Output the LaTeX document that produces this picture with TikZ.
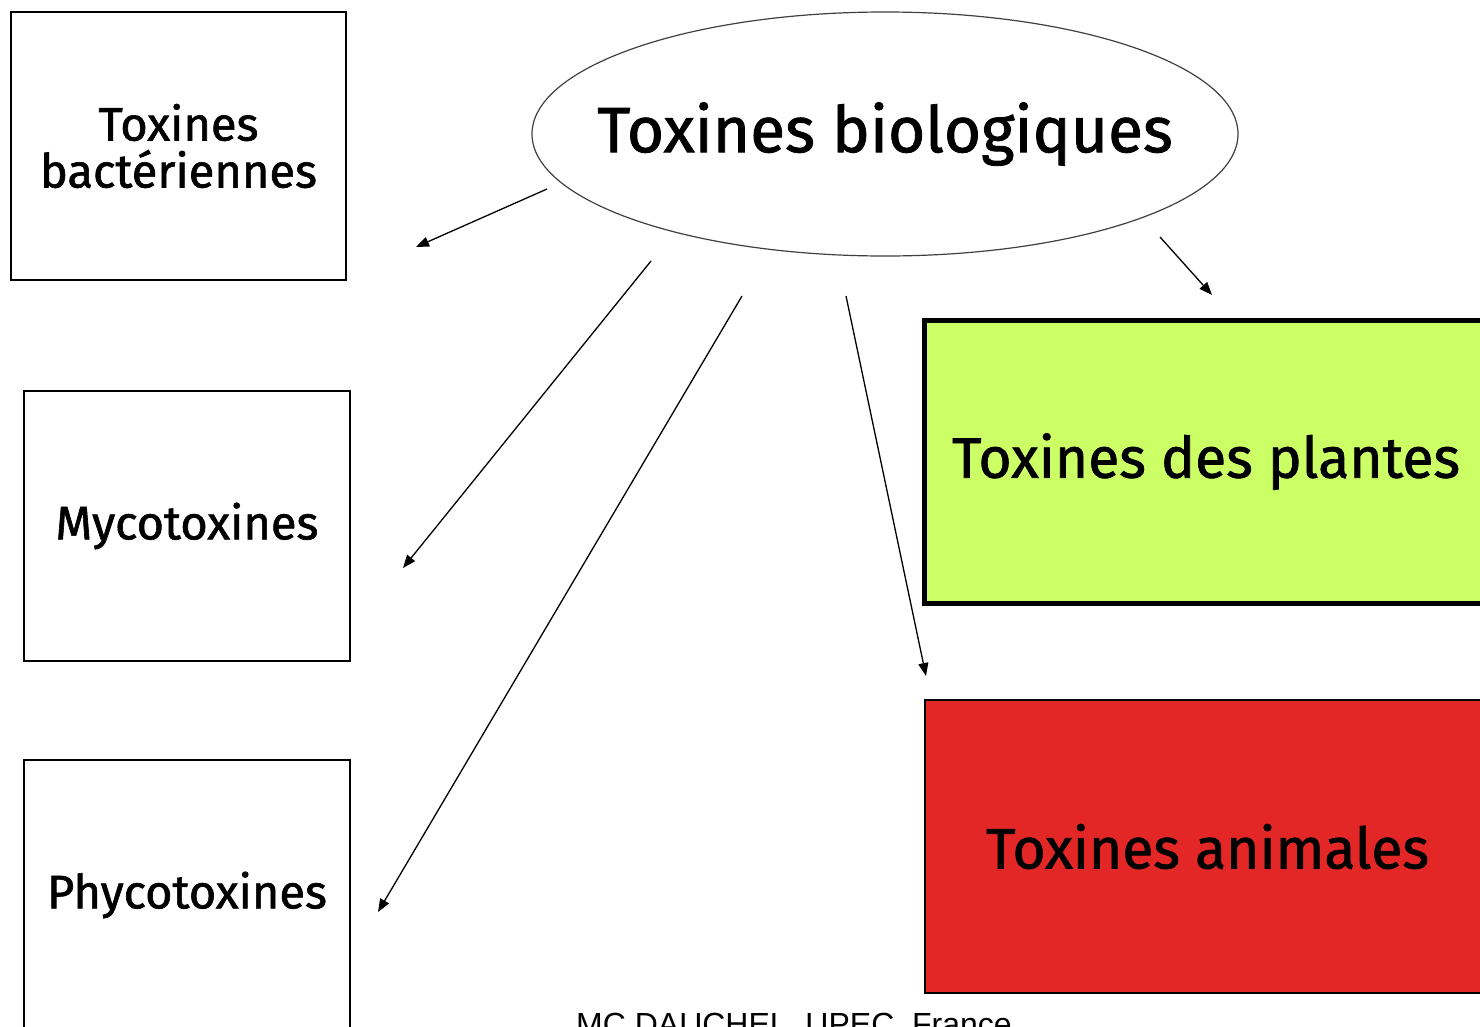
\documentclass[tikz,border=0pt]{standalone}
\usepackage{fontspec}
\setmainfont{Fira Sans}[FakeBold=1.3]
\newfontfamily\footfont{Liberation Sans}
\usetikzlibrary{shapes.geometric,arrows.meta}
\definecolor{plantgreen}{HTML}{CCFF66}
\definecolor{animalred}{HTML}{E32726}
\begin{document}
\begin{tikzpicture}[x=1pt,y=-1pt,
  box/.style={draw=black,line width=1.5pt,inner sep=0pt,align=center,font=\fontsize{47}{51}\selectfont},
  bigbox/.style={inner sep=0pt,align=center,font=\fontsize{57}{61}\selectfont},
  arr/.style={-{Triangle[length=13pt,width=10pt]},line width=1.3pt}]
\useasboundingbox (0,0) rectangle (1480,1026);
\clip (0,0) rectangle (1480,1026);
\fill[white] (0,0) rectangle (1480,1026);
% ellipse
\node[ellipse,draw=black!75,line width=1.2pt,minimum width=706pt,minimum height=244pt,inner sep=0pt] (bio) at (885,134) {};
\node[inner sep=0pt,font=\fontsize{64}{68}\selectfont] (biotext) at (bio.center) {Toxines biologiques};
% left boxes
\node[box,minimum width=335pt,minimum height=268pt] (bact) at (178.5,146) {Toxines\\[-4pt]bactériennes};
\node[box,minimum width=326pt,minimum height=270pt] (myco) at (187,526) {Mycotoxines};
\node[box,minimum width=326pt,minimum height=270pt] (phyco) at (187,895) {Phycotoxines};
% right boxes
\node[bigbox,draw=black,line width=5pt,fill=plantgreen,minimum width=564pt,minimum height=283pt] (plant) at (1206,461.5) {Toxines des plantes};
\node[bigbox,draw=black,line width=1.5pt,fill=animalred,minimum width=565pt,minimum height=293pt] (anim) at (1207.5,846.5) {Toxines animales};
% footer
\node[anchor=base,inner sep=0pt,font=\footfont\fontsize{32}{34}\selectfont] (foot) at (794,1035) {MC DAUCHEL\ \ UPEC\ \ France};
% arrow endpoints
\coordinate (s1) at (547,189); \coordinate (e1) at (416,247);
\coordinate (s2) at (651,261); \coordinate (e2) at (403,568);
\coordinate (s3) at (742,296); \coordinate (e3) at (378,912);
\coordinate (s4) at (846,296); \coordinate (e4) at (926,676);
\coordinate (s5) at (1160,237); \coordinate (e5) at (1212,295);
\draw[arr] (s1) -- (e1);
\draw[arr] (s2) -- (e2);
\draw[arr] (s3) -- (e3);
\draw[arr] (s4) -- (e4);
\draw[arr] (s5) -- (e5);
\end{tikzpicture}
\end{document}
